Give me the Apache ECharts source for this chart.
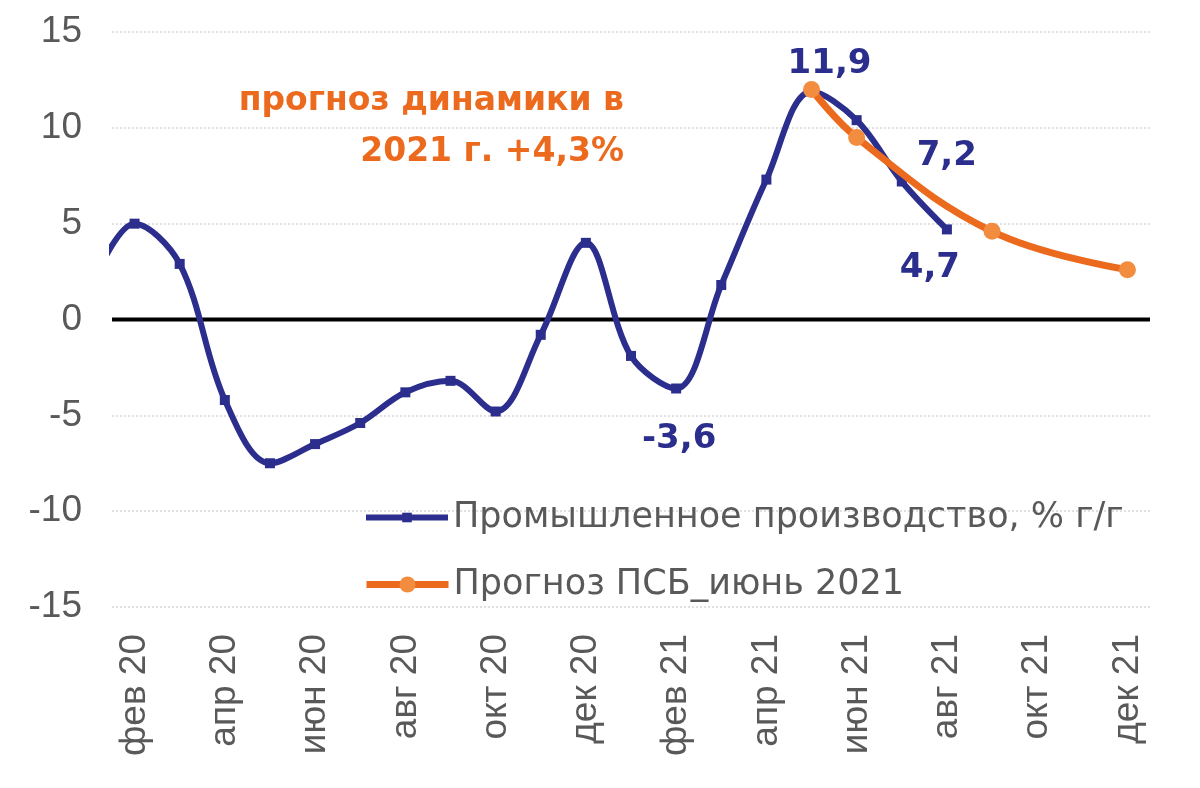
<!DOCTYPE html>
<html>
<head>
<meta charset="utf-8">
<script src="https://cdn.jsdelivr.net/npm/echarts@6/dist/echarts.min.js"></script>
<style>
html,body{margin:0;padding:0;background:#fff;}
#chart{width:1200px;height:788px;}
</style>
</head>
<body>
<div id="chart"></div>
<script>
// месяцы: индекс 0 = янв 20
var monthNames = ['янв 20','фев 20','мар 20','апр 20','май 20','июн 20','июл 20','авг 20','сен 20','окт 20','ноя 20','дек 20',
                  'янв 21','фев 21','мар 21','апр 21','май 21','июн 21','июл 21','авг 21','сен 21','окт 21','ноя 21','дек 21'];
var labelMonths = [1,3,5,7,9,11,13,15,17,19,21,23];

// Промышленное производство, % г/г
var prodMonths = [0,1,2,3,4,5,6,7,8,9,10,11,12,13,14,15,16,17,18,19];
var prodValues = [1.5,5.0,2.9,-4.2,-7.5,-6.5,-5.4,-3.8,-3.2,-4.8,-0.8,4.0,-1.9,-3.6,1.8,7.3,11.9,10.4,7.2,4.7];

// Прогноз ПСБ_июнь 2021
var fcMonths = [16,17,20,23];
var fcValues = [12.0,9.5,4.6,2.6];

// нулевая линия
var zeroMonths = [0.5,23.5];
var zeroValues = [0,0];

var navy = '#2B2E8C';
var orange = '#EC6A1E';

function fmt(v){
    return v.toFixed(1).replace('.', ',');
}

var labelStyle = {
    show: true,
    color: navy,
    fontFamily: 'DejaVu Sans',
    fontWeight: 'bold',
    fontSize: 34,
    formatter: function(p){ return fmt(p.value[1]); }
};
var labelSpec = {
    16: {position: 'top', offset: [18, 0]},
    18: {position: 'top', offset: [45, 2]},
    19: {position: 'bottom', offset: [-17, 12]},
    13: {position: 'bottom', offset: [3, 24]}
};

var prodData = [];
for (var i = 0; i < prodMonths.length; i++) {
    var item = {value: [prodMonths[i], prodValues[i]]};
    if (labelSpec[prodMonths[i]]) {
        item.label = Object.assign({}, labelStyle, labelSpec[prodMonths[i]]);
    }
    prodData.push(item);
}
var fcData = [];
for (var j = 0; j < fcMonths.length; j++) {
    fcData.push([fcMonths[j], fcValues[j]]);
}
var zeroData = [];
for (var k = 0; k < zeroMonths.length; k++) {
    zeroData.push([zeroMonths[k], zeroValues[k]]);
}

var legendText = {fontFamily: 'DejaVu Sans', fontSize: 35, color: '#595959'};

var option = {
    animation: false,
    grid: {left: 112, right: 50, top: 32, bottom: 181},
    legend: [
        {
            left: 358,
            top: 495,
            itemWidth: 82,
            itemHeight: 12,
            lineStyle: {width: 6},
            textStyle: legendText,
            data: ['Промышленное производство, % г/г']
        },
        {
            left: 358,
            top: 562,
            itemWidth: 82,
            itemHeight: 20,
            lineStyle: {width: 7},
            textStyle: legendText,
            data: ['Прогноз ПСБ_июнь 2021']
        }
    ],
    xAxis: {
        type: 'value',
        min: 0.5,
        max: 23.5,
        axisLine: {show: false},
        axisTick: {show: false},
        splitLine: {show: false},
        axisLabel: {
            customValues: labelMonths,
            rotate: 90,
            margin: 27,
            fontFamily: 'Liberation Sans',
            fontSize: 37,
            color: '#595959',
            formatter: function(v){ return monthNames[v]; }
        }
    },
    yAxis: {
        type: 'value',
        min: -15,
        max: 15,
        interval: 5,
        axisLine: {show: false},
        axisTick: {show: false},
        axisLabel: {
            margin: 30,
            fontFamily: 'Liberation Sans',
            fontSize: 37,
            color: '#595959'
        },
        splitLine: {lineStyle: {color: '#D6D6D6', width: 1.5, type: [2, 2]}}
    },
    series: [
        {
            name: 'zero',
            type: 'line',
            data: zeroData,
            symbol: 'none',
            silent: true,
            z: 1,
            lineStyle: {color: '#000', width: 4}
        },
        {
            name: 'Промышленное производство, % г/г',
            type: 'line',
            smooth: 0.35,
            data: prodData,
            symbol: 'rect',
            symbolSize: 10,
            color: navy,
            z: 2,
            lineStyle: {color: navy, width: 6},
            itemStyle: {color: navy}
        },
        {
            name: 'Прогноз ПСБ_июнь 2021',
            type: 'line',
            smooth: 0.4,
            data: fcData,
            symbol: 'circle',
            symbolSize: 17,
            color: orange,
            z: 3,
            lineStyle: {color: orange, width: 7},
            itemStyle: {color: '#F28C3E'}
        }
    ],
    graphic: [
        {
            type: 'text',
            right: 1200 - 624,
            top: 85,
            style: {text: 'прогноз динамики в', fill: orange, font: 'bold 33px "DejaVu Sans"', textAlign: 'right'}
        },
        {
            type: 'text',
            right: 1200 - 624,
            top: 136,
            style: {text: '2021 г. +4,3%', fill: orange, font: 'bold 33px "DejaVu Sans"', textAlign: 'right'}
        }
    ]
};

var chart = echarts.init(document.getElementById('chart'));
chart.setOption(option);
</script>
</body>
</html>
